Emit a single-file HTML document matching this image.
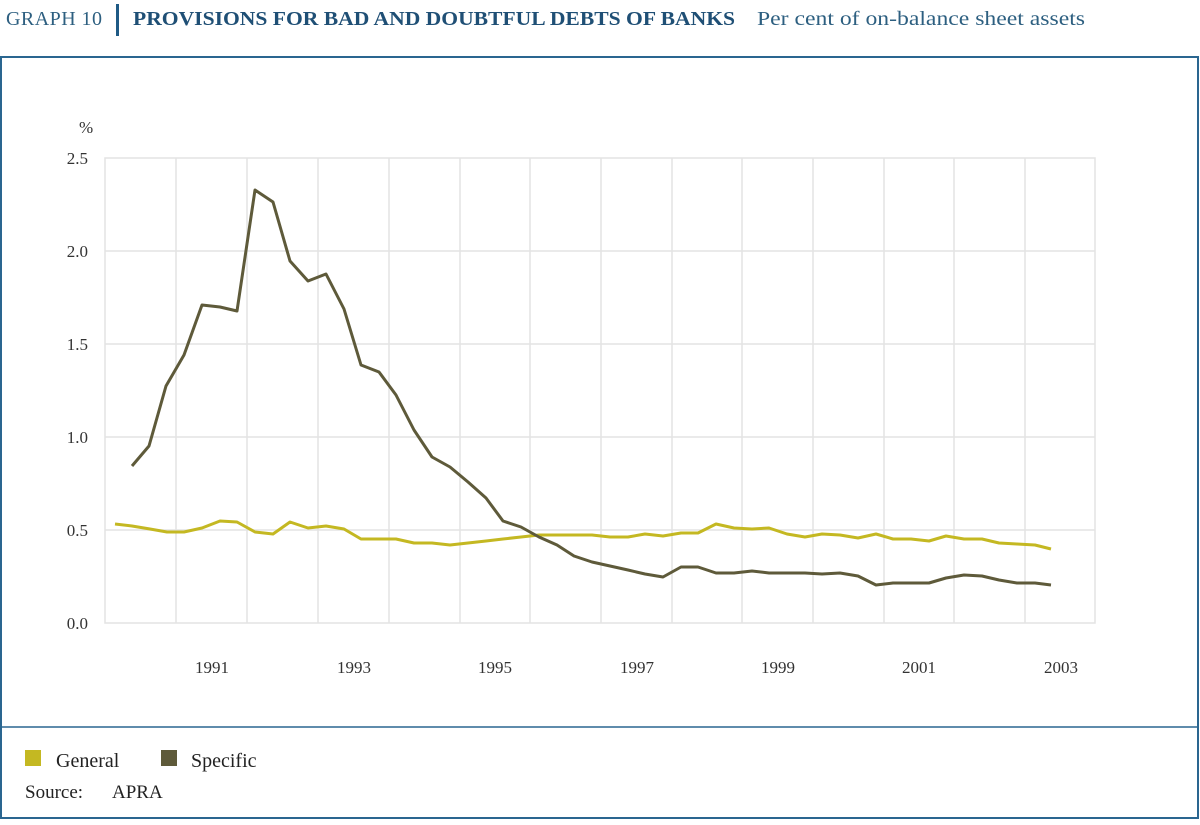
<!DOCTYPE html>
<html><head><meta charset="utf-8"><style>
body{margin:0;background:#fff;width:1200px;height:820px;overflow:hidden;font-family:"Liberation Serif",serif;}
</style></head><body>
<svg width="1200" height="820" xmlns="http://www.w3.org/2000/svg" font-family="Liberation Serif, serif">
<text x="6" y="25" font-size="20" fill="#2d5f80" textLength="96">GRAPH 10</text>
<rect x="116" y="4" width="3" height="32" fill="#1f5a85"/>
<text x="133" y="25" font-size="20" font-weight="bold" fill="#1f4f75" textLength="602" lengthAdjust="spacingAndGlyphs">PROVISIONS FOR BAD AND DOUBTFUL DEBTS OF BANKS</text>
<text x="757" y="25" font-size="20" fill="#2d5f80" textLength="328" lengthAdjust="spacingAndGlyphs">Per cent of on-balance sheet assets</text>
<rect x="1" y="57" width="1197" height="761" fill="none" stroke="#2a6690" stroke-width="2"/>
<line x1="1" y1="727" x2="1199" y2="727" stroke="#2a6690" stroke-width="1.5"/>
<g stroke="#e3e3e3" stroke-width="1.5" fill="none">
<rect x="105" y="158" width="990" height="465"/>
<line x1="105" y1="251" x2="1095" y2="251"/><line x1="105" y1="344" x2="1095" y2="344"/>
<line x1="105" y1="437" x2="1095" y2="437"/><line x1="105" y1="530" x2="1095" y2="530"/>
<line x1="176" y1="158" x2="176" y2="623"/><line x1="247" y1="158" x2="247" y2="623"/>
<line x1="318" y1="158" x2="318" y2="623"/><line x1="389" y1="158" x2="389" y2="623"/>
<line x1="460" y1="158" x2="460" y2="623"/><line x1="530" y1="158" x2="530" y2="623"/>
<line x1="601" y1="158" x2="601" y2="623"/><line x1="672" y1="158" x2="672" y2="623"/>
<line x1="742" y1="158" x2="742" y2="623"/><line x1="813" y1="158" x2="813" y2="623"/>
<line x1="884" y1="158" x2="884" y2="623"/><line x1="954" y1="158" x2="954" y2="623"/>
<line x1="1025" y1="158" x2="1025" y2="623"/>
</g>
<g font-size="17" fill="#333" text-anchor="end">
<text x="79" y="133" text-anchor="start">%</text>
<text x="88" y="164">2.5</text><text x="88" y="257">2.0</text><text x="88" y="350">1.5</text>
<text x="88" y="443">1.0</text><text x="88" y="536">0.5</text><text x="88" y="629">0.0</text>
</g>
<g font-size="17" fill="#333" text-anchor="middle">
<text x="212" y="673">1991</text><text x="354" y="673">1993</text><text x="495" y="673">1995</text>
<text x="637" y="673">1997</text><text x="778" y="673">1999</text><text x="919" y="673">2001</text><text x="1061" y="673">2003</text>
</g>
<polyline fill="none" stroke="#c4b822" stroke-width="3" stroke-linejoin="round" points="115,524 132,526 150,529 167,532 184,532 202,528 220,521 237,522 255,532 273,534 290,522 308,528 326,526 344,529 361,539 379,539 396,539 414,543 432,543 450,545 468,543 486,541 503,539 521,537 539,535 557,535 574,535 592,535 610,537 628,537 645,534 663,536 681,533 698,533 716,524 734,528 752,529 769,528 787,534 805,537 822,534 840,535 858,538 876,534 893,539 911,539 929,541 946,536 964,539 982,539 999,543 1017,544 1035,545 1051,549"/>
<polyline fill="none" stroke="#5e5a3a" stroke-width="3" stroke-linejoin="round" points="132,466 149,446 166,386 184,355 202,305 220,307 237,311 255,190 273,202 290,261 308,281 326,274 344,309 361,365 379,372 396,395 414,430 432,457 450,467 468,482 486,498 503,521 521,527 539,537 557,545 574,556 592,562 610,566 628,570 645,574 663,577 681,567 698,567 716,573 734,573 752,571 769,573 787,573 805,573 822,574 840,573 858,576 876,585 893,583 911,583 929,583 946,578 964,575 982,576 999,580 1017,583 1035,583 1051,585"/>
<rect x="25" y="750" width="16" height="16" fill="#c4b822"/>
<text x="56" y="767" font-size="20" fill="#222">General</text>
<rect x="161" y="750" width="16" height="16" fill="#5e5a3a"/>
<text x="191" y="767" font-size="20" fill="#222">Specific</text>
<text x="25" y="798" font-size="19" fill="#222">Source:</text>
<text x="112" y="798" font-size="19" fill="#222">APRA</text>
</svg>
</body></html>
